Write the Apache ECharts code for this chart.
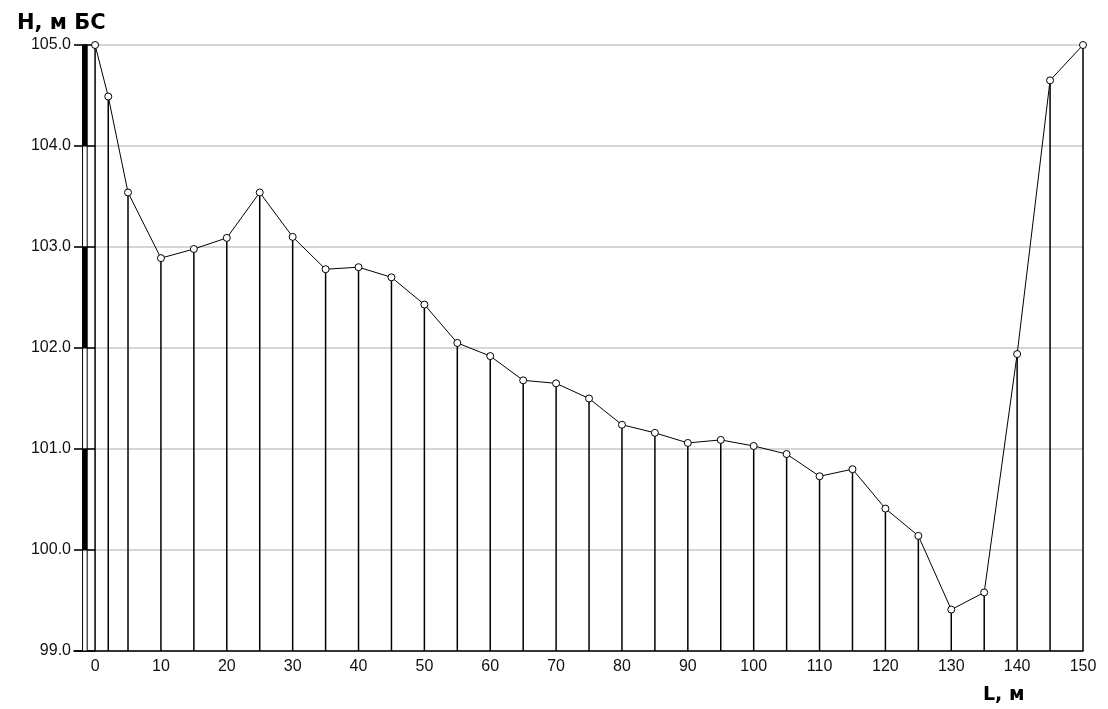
<!DOCTYPE html>
<html>
<head>
<meta charset="utf-8">
<script src="https://cdn.jsdelivr.net/npm/echarts@6/dist/echarts.min.js"></script>
<style>
html,body{margin:0;padding:0;background:#fff;}
#chart{width:1108px;height:709px;}
</style>
</head>
<body>
<div id="chart"></div>
<script>
// Distance along profile, m
const distances = [0,2,5,10,15,20,25,30,35,40,45,50,55,60,65,70,75,80,85,90,95,100,105,110,115,120,125,130,135,140,145,150];
// Elevation, m BS
const heights = [105.00,104.49,103.54,102.89,102.98,103.09,103.54,103.10,102.78,102.80,102.70,102.43,102.05,101.92,101.68,101.65,101.50,101.24,101.16,101.06,101.09,101.03,100.95,100.73,100.80,100.41,100.14,99.41,99.58,101.94,104.65,105.00];
// X tick labels
const xTickLabels = [0,10,20,30,40,50,60,70,80,90,100,110,120,130,140,150];
// Y scale
const yMin = 99, yMax = 105, yStep = 1;
// Scale ruler stops along the height axis
const rulerStops = [105,104,103,102,101,100,99];

const points = distances.map((d, i) => [d, heights[i]]);
const rulerSegments = [];
for (let i = 0; i < rulerStops.length - 1; i++) rulerSegments.push([rulerStops[i], rulerStops[i + 1]]);

const FONT = '"Liberation Sans", Arial, sans-serif';
const TFONT = '"DejaVu Sans", Arial, sans-serif';
const chart = echarts.init(document.getElementById('chart'), null, {renderer: 'canvas'});
chart.setOption({
  animation: false,
  backgroundColor: '#fff',
  title: [
    {text: 'H, м БС', left: 12, top: 8, textStyle: {fontFamily: TFONT, fontSize: 21, fontWeight: 'bold', color: '#000'}},
    {text: 'L, м', left: 978, top: 681, textStyle: {fontFamily: TFONT, fontSize: 19, fontWeight: 'bold', color: '#000'}}
  ],
  grid: {left: 74, right: 25, top: 45, bottom: 58, containLabel: false},
  xAxis: {
    type: 'value', min: -3.2, max: 150,
    axisLine: {show: true, onZero: false, lineStyle: {color: '#000', width: 1.5}},
    axisTick: {show: false},
    splitLine: {show: false},
    axisLabel: {customValues: xTickLabels, margin: 8, fontFamily: FONT, fontSize: 16, color: '#111'}
  },
  yAxis: {
    type: 'value', min: yMin, max: yMax, interval: yStep,
    axisLine: {show: false, onZero: false},
    axisTick: {show: true, inside: true, length: 21, lineStyle: {color: '#000', width: 1.5}},
    splitLine: {show: true, lineStyle: {color: '#c8c8c8', width: 1.5}},
    axisLabel: {margin: 3, fontFamily: FONT, fontSize: 16, color: '#111', formatter: v => v.toFixed(1)}
  },
  series: [
    {
      type: 'custom', name: 'ruler', data: rulerSegments, encode: {y: [0, 1]}, z: 3,
      renderItem: (params, api) => {
        const p1 = api.coord([-1.9, api.value(0)]);
        const p2 = api.coord([-1.2, api.value(1)]);
        return {type: 'rect', shape: {x: p1[0], y: p1[1], width: p2[0] - p1[0], height: p2[1] - p1[1]},
          style: {fill: params.dataIndex % 2 ? '#fff' : '#000', stroke: '#000', lineWidth: 1}};
      }
    },
    {
      type: 'custom', name: 'stems', data: points, encode: {x: 0, y: 1}, z: 3,
      renderItem: (params, api) => {
        const a = api.coord([api.value(0), api.value(1)]);
        const b = api.coord([api.value(0), yMin]);
        return {type: 'line', shape: {x1: a[0], y1: a[1], x2: b[0], y2: b[1]}, style: {stroke: '#000', lineWidth: 1.5}};
      }
    },
    {
      type: 'line', name: 'profile', data: points, z: 5,
      symbol: 'circle', symbolSize: 7,
      lineStyle: {color: '#000', width: 1},
      itemStyle: {color: '#fff', borderColor: '#000', borderWidth: 1}
    }
  ]
});
</script>
</body>
</html>
